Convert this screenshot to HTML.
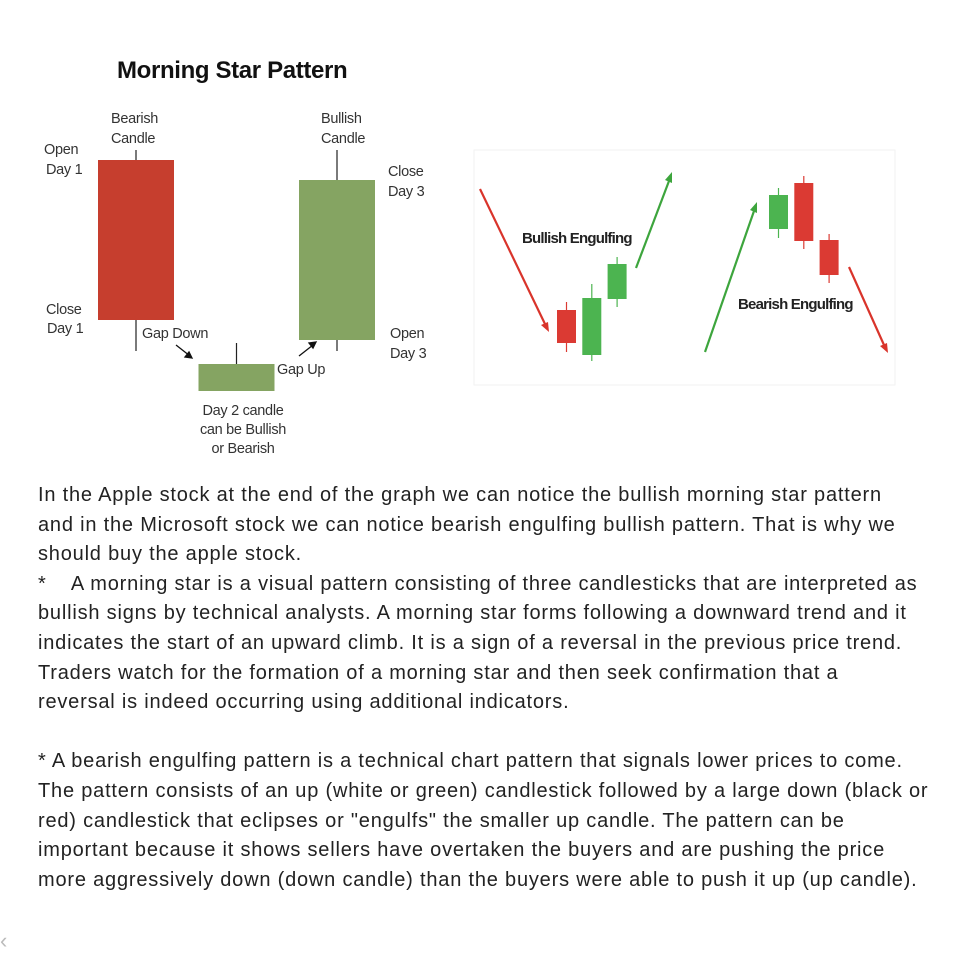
<!DOCTYPE html>
<html><head><meta charset="utf-8"><style>
body{margin:0;width:978px;height:952px;background:#fff;overflow:hidden;font-family:"Liberation Sans",sans-serif}
#txt{position:absolute;left:38px;top:481px;width:940px;font-size:20px;line-height:29.6px;color:#222;letter-spacing:0.8px;white-space:nowrap}
#txt p{margin:0}
</style></head><body>
<svg width="978" height="480" style="position:absolute;left:0;top:0">
<text x="117" y="78" font-size="24" font-weight="bold" letter-spacing="-0.35" fill="#111">Morning Star Pattern</text>
<g id="ms"></g>
<g font-size="14.5" fill="#333" letter-spacing="-0.3">
<text x="111" y="123">Bearish</text><text x="111" y="143">Candle</text>
<text x="44" y="154">Open</text><text x="46" y="174">Day 1</text>
<text x="321" y="123">Bullish</text><text x="321" y="143">Candle</text>
<text x="388" y="176">Close</text><text x="388" y="196">Day 3</text>
<text x="46" y="314">Close</text><text x="47" y="333">Day 1</text>
<text x="142" y="338">Gap Down</text>
<text x="390" y="338">Open</text><text x="390" y="358">Day 3</text>
<text x="277" y="374">Gap Up</text>
<text x="243" y="415" text-anchor="middle">Day 2 candle</text>
<text x="243" y="434" text-anchor="middle">can be Bullish</text>
<text x="243" y="453" text-anchor="middle">or Bearish</text>
</g>
<g stroke="#111" stroke-width="1.3">
<line x1="176" y1="345" x2="190" y2="356"/><path d="M192 358 l-7 -1 l4 -5z" fill="#111"/>
<line x1="299" y1="356" x2="313" y2="345"/><path d="M316 342 l-7 1 l4 5z" fill="#111"/>
</g>
<rect x="474" y="150" width="421" height="235" fill="#fff" stroke="#f2f2f2"/>
<g id="eg"></g>
<g stroke-width="2.2">
<line x1="480" y1="189" x2="545" y2="324" stroke="#d9342b"/><path d="M549 332 l-8 -7 l7 -3z" fill="#d9342b"/>
<line x1="636" y1="268" x2="669" y2="181" stroke="#3da53d"/><path d="M672 172 l0 11 l-7 -3z" fill="#3da53d"/>
<line x1="705" y1="352" x2="754" y2="211" stroke="#3da53d"/><path d="M757 202 l0 11 l-7 -3z" fill="#3da53d"/>
<line x1="849" y1="267" x2="884" y2="345" stroke="#d9342b"/><path d="M888 353 l-8 -7 l7 -3z" fill="#d9342b"/>
</g>
<text x="522" y="243" font-size="15" font-weight="bold" fill="#222" letter-spacing="-0.8">Bullish Engulfing</text>
<text x="738" y="309" font-size="15" font-weight="bold" fill="#222" letter-spacing="-0.8">Bearish Engulfing</text>
</svg>
<script>
// Morning star candles (value units)
const msDays=["day1","day2","day3"];
const msOpen=[240,9,60];
const msClose=[80,36,220];
const msHigh=[250,57,250];
const msLow=[49,36,49];
// Engulfing candles
const egCats=["b1","b2","b3","s1","s2","s3"];
const egOpen=[90,45,101,171,217,160];
const egClose=[57,102,136,205,159,125];
const egHigh=[98,116,143,212,224,166];
const egLow=[48,39,93,162,151,117];
const NS="http://www.w3.org/2000/svg";
function y(v){return 400-v;}
function msX(i){return 136+i*100.5;}
function egX(i){return (i<3?566.5:778.5)+(i%3)*25.3;}
function draw(g,open,close,high,low,xf,w,up,down,wickC,name){
  for(let i=0;i<open.length;i++){
    const cx=xf(i),top=Math.min(y(open[i]),y(close[i])),bot=Math.max(y(open[i]),y(close[i]));
    const l=document.createElementNS(NS,"line");
    
    
    l.setAttribute("x1",cx);l.setAttribute("x2",cx);l.setAttribute("y1",y(high[i]));l.setAttribute("y2",y(low[i]));
    l.setAttribute("stroke",wickC||(close[i]>=open[i]?up:down));l.setAttribute("stroke-width","1.2");
    g.appendChild(l);
    const r=document.createElementNS(NS,"rect");
    
    
    r.setAttribute("x",cx-w/2);r.setAttribute("y",top);r.setAttribute("width",w);r.setAttribute("height",Math.max(1,bot-top));
    r.setAttribute("fill",close[i]>=open[i]?up:down);
    g.appendChild(r);
  }
}
draw(document.getElementById("ms"),msOpen,msClose,msHigh,msLow,msX,76,"#85a462","#c63e2e","#222","morning-star-candle");
draw(document.getElementById("eg"),egOpen,egClose,egHigh,egLow,egX,19,"#4cb450","#db3a33",null,"engulfing-candle");
</script>
<div id="txt">
<p>In the Apple stock at the end of the graph we can notice the bullish morning star pattern<br>and in the Microsoft stock we can notice bearish engulfing bullish pattern. That is why we<br>should buy the apple stock.</p>
<p>*&nbsp;&nbsp;&nbsp; A morning star is a visual pattern consisting of three candlesticks that are interpreted as<br>bullish signs by technical analysts. A morning star forms following a downward trend and it<br>indicates the start of an upward climb. It is a sign of a reversal in the previous price trend.<br>Traders watch for the formation of a morning star and then seek confirmation that a<br>reversal is indeed occurring using additional indicators.</p>
<p>&nbsp;</p>
<p>* A bearish engulfing pattern is a technical chart pattern that signals lower prices to come.<br>The pattern consists of an up (white or green) candlestick followed by a large down (black or<br>red) candlestick that eclipses or "engulfs" the smaller up candle. The pattern can be<br>important because it shows sellers have overtaken the buyers and are pushing the price<br>more aggressively down (down candle) than the buyers were able to push it up (up candle).</p>
</div>
<div style="position:absolute;left:0;top:928px;color:#bbb;font-size:22px">‹</div>
</body></html>
